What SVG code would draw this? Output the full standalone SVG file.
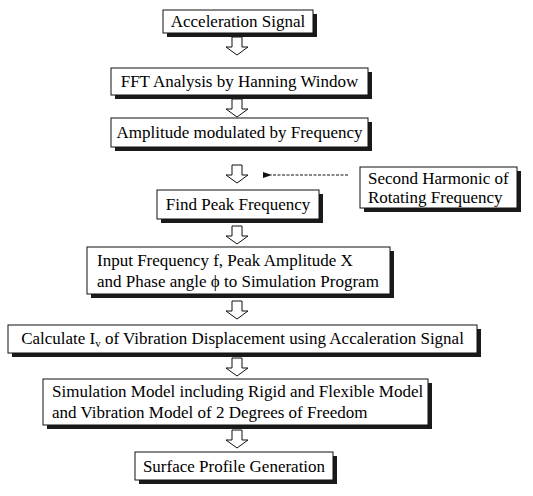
<svg xmlns="http://www.w3.org/2000/svg" width="533" height="496" viewBox="0 0 533 496">
<defs>
<style>
.box{fill:#fff;stroke:#111;stroke-width:1}
.sh{fill:#1a1a1a}
.t{font-family:"Liberation Serif","Times New Roman",serif;font-size:17px;fill:#000;text-anchor:middle}
.l{font-family:"Liberation Serif","Times New Roman",serif;font-size:17px;fill:#000;text-anchor:start}
.ar{fill:#fff;stroke:#111;stroke-width:1}
</style>
<marker id="ah" markerWidth="9" markerHeight="6" refX="1" refY="3" orient="auto" markerUnits="userSpaceOnUse">
<path d="M9,0 L0,3 L9,6 Z" fill="#111"/>
</marker>
<path id="blk" d="M-5,0 H5 V10 H11 L0,18 L-11,10 H-5 Z"/>
</defs>
<rect width="533" height="496" fill="#fff"/>

<g id="connectors">
<use href="#blk" class="ar" x="237" y="37"/>
<use href="#blk" class="ar" x="237" y="99"/>
<use href="#blk" class="ar" x="237" y="165"/>
<use href="#blk" class="ar" x="237" y="226"/>
<use href="#blk" class="ar" x="237" y="301"/>
<use href="#blk" class="ar" x="237" y="358"/>
<use href="#blk" class="ar" x="237" y="430"/>
<line x1="348" y1="175" x2="271" y2="175" stroke="#111" stroke-width="1" stroke-dasharray="3,1.5" marker-end="url(#ah)"/>
</g>

<g id="n1">
<rect class="sh" x="167" y="14" width="150" height="23"/>
<rect class="box" x="163" y="10" width="150" height="23"/>
<text class="t" x="238" y="27">Acceleration Signal</text>
</g>
<g id="n2">
<rect class="sh" x="115" y="72" width="257" height="27"/>
<rect class="box" x="111" y="68" width="257" height="27"/>
<text class="t" x="239.5" y="87">FFT Analysis by Hanning Window</text>
</g>
<g id="n3">
<rect class="sh" x="115" y="122" width="257" height="29"/>
<rect class="box" x="111" y="118" width="257" height="29"/>
<text class="t" x="239.5" y="138">Amplitude modulated by Frequency</text>
</g>
<g id="n4">
<rect class="sh" x="364" y="171" width="157" height="41"/>
<rect class="box" x="360" y="167" width="157" height="41"/>
<text class="l" x="368" y="184">Second Harmonic of</text>
<text class="l" x="368" y="203">Rotating Frequency</text>
</g>
<g id="n5">
<rect class="sh" x="161" y="194" width="162" height="29"/>
<rect class="box" x="157" y="190" width="162" height="29"/>
<text class="t" x="238" y="210">Find Peak Frequency</text>
</g>
<g id="n6">
<rect class="sh" x="91" y="251" width="303" height="47"/>
<rect class="box" x="87" y="247" width="303" height="47"/>
<text class="l" x="97" y="266">Input Frequency f, Peak Amplitude X</text>
<text class="l" x="97" y="287">and Phase angle ϕ to Simulation Program</text>
</g>
<g id="n7">
<rect class="sh" x="12" y="329" width="469" height="28"/>
<rect class="box" x="8" y="325" width="469" height="28"/>
<text class="t" x="242.5" y="344">Calculate I<tspan font-size="11" dy="3">v</tspan><tspan dy="-3"> of Vibration Displacement using Accaleration Signal</tspan></text>
</g>
<g id="n8">
<rect class="sh" x="47" y="383" width="385" height="46"/>
<rect class="box" x="43" y="379" width="385" height="46"/>
<text class="l" x="52" y="397">Simulation Model including Rigid and Flexible Model</text>
<text class="l" x="52" y="418">and Vibration Model of 2 Degrees of Freedom</text>
</g>
<g id="n9">
<rect class="sh" x="139" y="456" width="198" height="28"/>
<rect class="box" x="135" y="452" width="198" height="28"/>
<text class="t" x="234" y="472">Surface Profile Generation</text>
</g>
</svg>
